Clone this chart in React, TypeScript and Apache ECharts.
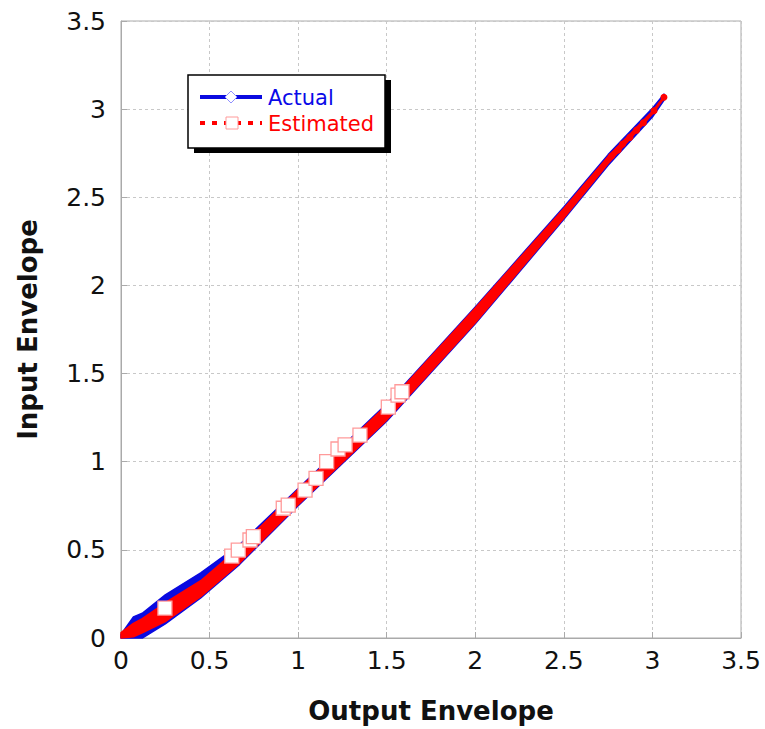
import React, { useEffect, useRef } from "react";
import * as echarts from "echarts";

// Axis ticks (both axes share 0 .. 3.5 step 0.5)
const axisMin = 0;
const axisMax = 3.5;
const axisStep = 0.5;

// Band outlines (output envelope on x, input envelope on y)
const outputX = [0, 0.07, 0.12, 0.25, 0.45, 0.67, 1.0, 1.5, 2.0, 2.5, 2.75, 3.0, 3.065];
const actualUpper = [0.02, 0.12, 0.14, 0.245, 0.37, 0.53, 0.848, 1.328, 1.878, 2.445, 2.742, 3.005, 3.085];
const actualLower = [0, 0, 0.0, 0.08, 0.227, 0.418, 0.75, 1.23, 1.782, 2.375, 2.682, 2.955, 3.05];
const estimatedUpper = [0.03, 0.083, 0.11, 0.2, 0.325, 0.515, 0.842, 1.322, 1.872, 2.437, 2.732, 2.988, 3.072];
const estimatedLower = [0, 0.007, 0.03, 0.093, 0.234, 0.425, 0.756, 1.236, 1.788, 2.383, 2.692, 2.972, 3.062];

// White square markers of the estimated series
const estimatedMarkers: [number, number][] = [
  [0.248, 0.17],
  [0.625, 0.465],
  [0.662, 0.499],
  [0.728, 0.556],
  [0.747, 0.575],
  [0.916, 0.736],
  [0.944, 0.754],
  [1.039, 0.839],
  [1.101, 0.906],
  [1.161, 1.0],
  [1.225, 1.072],
  [1.265, 1.095],
  [1.349, 1.151],
  [1.509, 1.31],
  [1.564, 1.378],
  [1.586, 1.397],
];

// Red dash dots visible near the upper end
const estimatedDots: [number, number][] = [
  [2.77, 2.734],
  [2.807, 2.768],
  [2.832, 2.802],
  [2.873, 2.84],
  [2.911, 2.881],
  [2.949, 2.923],
  [3.009, 2.991],
  [3.065, 3.067],
];

const BLUE = "#0a0ae0";
const RED = "#ff0000";
const FONT = "DejaVu Sans";

export default function App() {
  const ref = useRef<HTMLDivElement>(null);

  useEffect(() => {
    document.body.style.margin = "0";
    const chart = echarts.init(ref.current!, null, { renderer: "svg" });

    const band = (name: string, lower: number[], upper: number[], color: string, z: number) => ({
      type: "custom",
      name,
      z,
      silent: true,
      coordinateSystem: "cartesian2d",
      data: outputX.map((x, i) => [x, lower[i], upper[i]]),
      encode: { x: 0, y: [1, 2] },
      renderItem: (params: any, api: any) => {
        if (params.dataIndex !== 0) return null;
        const top = outputX.map((x, i) => api.coord([x, upper[i]]));
        const bottom = outputX.map((x, i) => api.coord([x, lower[i]])).reverse();
        return {
          type: "polygon",
          shape: { points: top.concat(bottom) },
          style: { fill: color, stroke: color, lineWidth: 1.5, lineJoin: "round" },
        };
      },
    });

    const axisCommon = {
      type: "value",
      min: axisMin,
      max: axisMax,
      interval: axisStep,
      axisLine: { show: true, lineStyle: { color: "#aaaaaa", width: 1 } },
      axisTick: { show: true, inside: true, length: 6, lineStyle: { color: "#aaaaaa" } },
      splitLine: { show: true, lineStyle: { color: "#c8c8c8", width: 1, type: [3, 3] } },
      axisLabel: { color: "#111", fontFamily: FONT, fontSize: 25 },
      nameLocation: "middle",
      nameTextStyle: { color: "#111", fontFamily: FONT, fontSize: 26, fontWeight: "bold" },
    };

    chart.setOption({
      animation: false,
      grid: {
        left: 121,
        top: 21,
        width: 620,
        height: 617,
        show: true,
        borderColor: "#aaaaaa",
        borderWidth: 1,
        backgroundColor: "#fff",
      },
      xAxis: {
        ...axisCommon,
        name: "Output Envelope",
        nameGap: 60,
        axisLabel: { ...axisCommon.axisLabel, margin: 10 },
      },
      yAxis: {
        ...axisCommon,
        name: "Input Envelope",
        nameGap: 80,
        axisLabel: { ...axisCommon.axisLabel, margin: 15 },
      },
      series: [
        band("Actual", actualLower, actualUpper, BLUE, 2),
        band("Estimated", estimatedLower, estimatedUpper, RED, 3),
        {
          type: "scatter",
          name: "Estimated dots",
          z: 4,
          silent: true,
          symbol: "circle",
          symbolSize: 7,
          itemStyle: { color: RED, opacity: 1 },
          data: estimatedDots,
        },
        {
          type: "scatter",
          name: "Estimated markers",
          z: 5,
          silent: true,
          symbol: "rect",
          symbolSize: 14,
          itemStyle: { color: "#ffffff", borderColor: "#ff9a9a", borderWidth: 1.3, opacity: 1 },
          data: estimatedMarkers,
        },
      ],
      graphic: [
        { type: "rect", z: 100, shape: { x: 194, y: 80, width: 197, height: 73 }, style: { fill: "#000" } },
        {
          type: "rect",
          z: 101,
          shape: { x: 188, y: 75, width: 197, height: 73 },
          style: { fill: "#fff", stroke: "#000", lineWidth: 1.5 },
        },
        {
          type: "line",
          z: 102,
          shape: { x1: 200, y1: 97, x2: 262, y2: 97 },
          style: { stroke: BLUE, lineWidth: 4 },
        },
        {
          type: "polygon",
          z: 103,
          shape: { points: [[231, 91], [237, 97], [231, 103], [225, 97]] },
          style: { fill: "#fff", stroke: "#9090ff", lineWidth: 1 },
        },
        {
          type: "text",
          z: 103,
          x: 268,
          y: 98,
          style: { text: "Actual", fill: "#0a0ae8", fontFamily: FONT, fontSize: 21, verticalAlign: "middle" },
        },
        {
          type: "line",
          z: 102,
          shape: { x1: 200, y1: 123, x2: 262, y2: 123 },
          style: { stroke: RED, lineWidth: 4, lineDash: [5, 7] },
        },
        {
          type: "rect",
          z: 103,
          shape: { x: 226, y: 117, width: 12, height: 12 },
          style: { fill: "#fff", stroke: "#ff9a9a", lineWidth: 1 },
        },
        {
          type: "text",
          z: 103,
          x: 268,
          y: 124,
          style: { text: "Estimated", fill: RED, fontFamily: FONT, fontSize: 21, verticalAlign: "middle" },
        },
      ],
    });

    return () => chart.dispose();
  }, []);

  return <div ref={ref} style={{ width: 765, height: 729 }} />;
}
